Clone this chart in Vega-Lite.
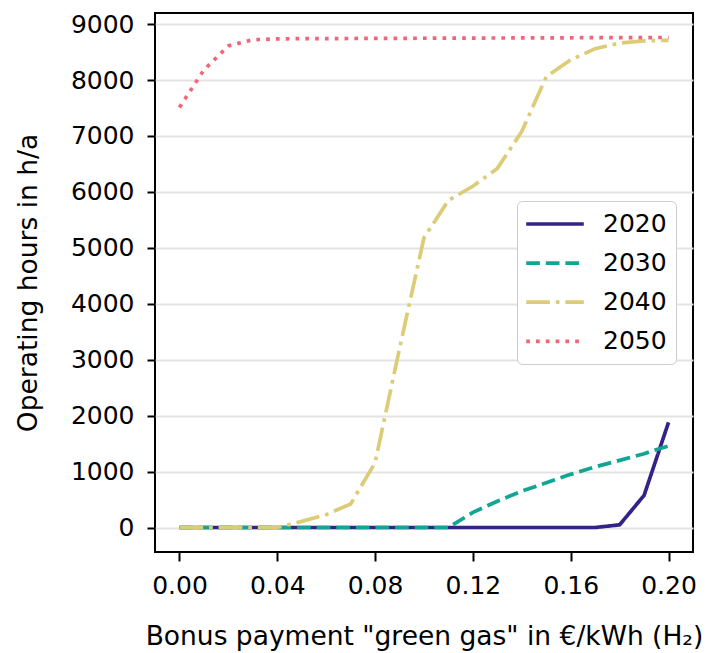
{
  "$schema": "https://vega.github.io/schema/vega-lite/v6.json",
  "autosize": {"type": "none"},
  "padding": {"left": 155, "top": 13, "right": 13, "bottom": 101},
  "width": 538,
  "height": 539,
  "background": "white",
  "config": {
    "font": "DejaVu Sans",
    "view": {"stroke": "black", "strokeWidth": 2},
    "axis": {
      "labelFont": "DejaVu Sans",
      "titleFont": "DejaVu Sans",
      "labelFontSize": 25,
      "titleFontSize": 26.5,
      "labelColor": "black",
      "titleColor": "black",
      "titleFontWeight": "normal",
      "tickColor": "black",
      "tickWidth": 2,
      "tickSize": 8,
      "labelPadding": 13,
      "domain": false
    }
  },
  "data": {
    "values": [
      {"x": 0.00, "y": 0, "year": "2020"},
      {"x": 0.01, "y": 0, "year": "2020"},
      {"x": 0.02, "y": 0, "year": "2020"},
      {"x": 0.03, "y": 0, "year": "2020"},
      {"x": 0.04, "y": 0, "year": "2020"},
      {"x": 0.05, "y": 0, "year": "2020"},
      {"x": 0.06, "y": 0, "year": "2020"},
      {"x": 0.07, "y": 0, "year": "2020"},
      {"x": 0.08, "y": 0, "year": "2020"},
      {"x": 0.09, "y": 0, "year": "2020"},
      {"x": 0.10, "y": 0, "year": "2020"},
      {"x": 0.11, "y": 0, "year": "2020"},
      {"x": 0.12, "y": 0, "year": "2020"},
      {"x": 0.13, "y": 0, "year": "2020"},
      {"x": 0.14, "y": 0, "year": "2020"},
      {"x": 0.15, "y": 0, "year": "2020"},
      {"x": 0.16, "y": 0, "year": "2020"},
      {"x": 0.17, "y": 0, "year": "2020"},
      {"x": 0.18, "y": 48, "year": "2020"},
      {"x": 0.19, "y": 575, "year": "2020"},
      {"x": 0.20, "y": 1880, "year": "2020"},
      {"x": 0.00, "y": 0, "year": "2030"},
      {"x": 0.01, "y": 0, "year": "2030"},
      {"x": 0.02, "y": 0, "year": "2030"},
      {"x": 0.03, "y": 0, "year": "2030"},
      {"x": 0.04, "y": 0, "year": "2030"},
      {"x": 0.05, "y": 0, "year": "2030"},
      {"x": 0.06, "y": 0, "year": "2030"},
      {"x": 0.07, "y": 0, "year": "2030"},
      {"x": 0.08, "y": 0, "year": "2030"},
      {"x": 0.09, "y": 0, "year": "2030"},
      {"x": 0.10, "y": 0, "year": "2030"},
      {"x": 0.11, "y": 0, "year": "2030"},
      {"x": 0.12, "y": 270, "year": "2030"},
      {"x": 0.13, "y": 470, "year": "2030"},
      {"x": 0.14, "y": 650, "year": "2030"},
      {"x": 0.15, "y": 800, "year": "2030"},
      {"x": 0.16, "y": 950, "year": "2030"},
      {"x": 0.17, "y": 1085, "year": "2030"},
      {"x": 0.18, "y": 1200, "year": "2030"},
      {"x": 0.19, "y": 1320, "year": "2030"},
      {"x": 0.20, "y": 1460, "year": "2030"},
      {"x": 0.00, "y": 0, "year": "2040"},
      {"x": 0.01, "y": 0, "year": "2040"},
      {"x": 0.02, "y": 0, "year": "2040"},
      {"x": 0.03, "y": 0, "year": "2040"},
      {"x": 0.04, "y": 0, "year": "2040"},
      {"x": 0.05, "y": 110, "year": "2040"},
      {"x": 0.06, "y": 230, "year": "2040"},
      {"x": 0.07, "y": 420, "year": "2040"},
      {"x": 0.08, "y": 1160, "year": "2040"},
      {"x": 0.09, "y": 3200, "year": "2040"},
      {"x": 0.10, "y": 5180, "year": "2040"},
      {"x": 0.11, "y": 5850, "year": "2040"},
      {"x": 0.12, "y": 6100, "year": "2040"},
      {"x": 0.13, "y": 6420, "year": "2040"},
      {"x": 0.14, "y": 7080, "year": "2040"},
      {"x": 0.15, "y": 8060, "year": "2040"},
      {"x": 0.16, "y": 8360, "year": "2040"},
      {"x": 0.17, "y": 8560, "year": "2040"},
      {"x": 0.18, "y": 8660, "year": "2040"},
      {"x": 0.19, "y": 8700, "year": "2040"},
      {"x": 0.20, "y": 8710, "year": "2040"},
      {"x": 0.00, "y": 7510, "year": "2050"},
      {"x": 0.01, "y": 8180, "year": "2050"},
      {"x": 0.02, "y": 8610, "year": "2050"},
      {"x": 0.03, "y": 8720, "year": "2050"},
      {"x": 0.04, "y": 8735, "year": "2050"},
      {"x": 0.05, "y": 8740, "year": "2050"},
      {"x": 0.06, "y": 8740, "year": "2050"},
      {"x": 0.07, "y": 8742, "year": "2050"},
      {"x": 0.08, "y": 8744, "year": "2050"},
      {"x": 0.09, "y": 8745, "year": "2050"},
      {"x": 0.10, "y": 8747, "year": "2050"},
      {"x": 0.11, "y": 8748, "year": "2050"},
      {"x": 0.12, "y": 8750, "year": "2050"},
      {"x": 0.13, "y": 8751, "year": "2050"},
      {"x": 0.14, "y": 8752, "year": "2050"},
      {"x": 0.15, "y": 8754, "year": "2050"},
      {"x": 0.16, "y": 8755, "year": "2050"},
      {"x": 0.17, "y": 8757, "year": "2050"},
      {"x": 0.18, "y": 8758, "year": "2050"},
      {"x": 0.19, "y": 8759, "year": "2050"},
      {"x": 0.20, "y": 8760, "year": "2050"}
    ]
  },
  "mark": {"type": "line", "strokeWidth": 3.7, "strokeCap": "butt"},
  "encoding": {
    "x": {
      "field": "x",
      "type": "quantitative",
      "scale": {"domain": [-0.01, 0.21], "nice": false, "zero": false},
      "axis": {
        "values": [0, 0.04, 0.08, 0.12, 0.16, 0.2],
        "format": ".2f",
        "grid": false,
        "tickSize": 9,
        "labelPadding": 12,
        "titleX": 269,
        "titleY": 92,
        "titleAlign": "center",
        "titleBaseline": "alphabetic",
        "title": "Bonus payment \"green gas\" in €/kWh (H₂)"
      }
    },
    "y": {
      "field": "y",
      "type": "quantitative",
      "scale": {"domain": [-438, 9198], "nice": false, "zero": false},
      "axis": {
        "values": [0, 1000, 2000, 3000, 4000, 5000, 6000, 7000, 8000, 9000],
        "format": "d",
        "grid": true,
        "gridColor": "#e3e3e3",
        "gridWidth": 2,
        "titleX": -119,
        "titleY": 269.5,
        "titleAngle": -90,
        "titleAlign": "center",
        "titleBaseline": "alphabetic",
        "title": "Operating hours in h/a"
      }
    },
    "color": {
      "field": "year",
      "type": "nominal",
      "scale": {
        "domain": ["2020", "2030", "2040", "2050"],
        "range": ["#332288", "#11A593", "#DDCC77", "#EE6677"]
      },
      "legend": {
        "title": null,
        "orient": "none",
        "legendX": 362,
        "legendY": 188,
        "symbolType": "M-2.4,0H2.4",
        "symbolSize": 576,
        "symbolOffset": 15,
        "symbolStrokeWidth": 3.7,
        "symbolFillColor": "transparent",
        "labelFont": "DejaVu Sans",
        "labelFontSize": 25,
        "labelColor": "black",
        "labelOffset": 34,
        "rowPadding": 12.1,
        "padding": 9,
        "fillColor": "white",
        "strokeColor": "#cccccc",
        "cornerRadius": 5
      }
    },
    "strokeDash": {
      "field": "year",
      "type": "nominal",
      "scale": {
        "domain": ["2020", "2030", "2040", "2050"],
        "range": [[1, 0], [13.7, 5.9], [23.7, 5.9, 3.7, 5.9], [3.7, 6.1]]
      },
      "legend": null
    }
  }
}
